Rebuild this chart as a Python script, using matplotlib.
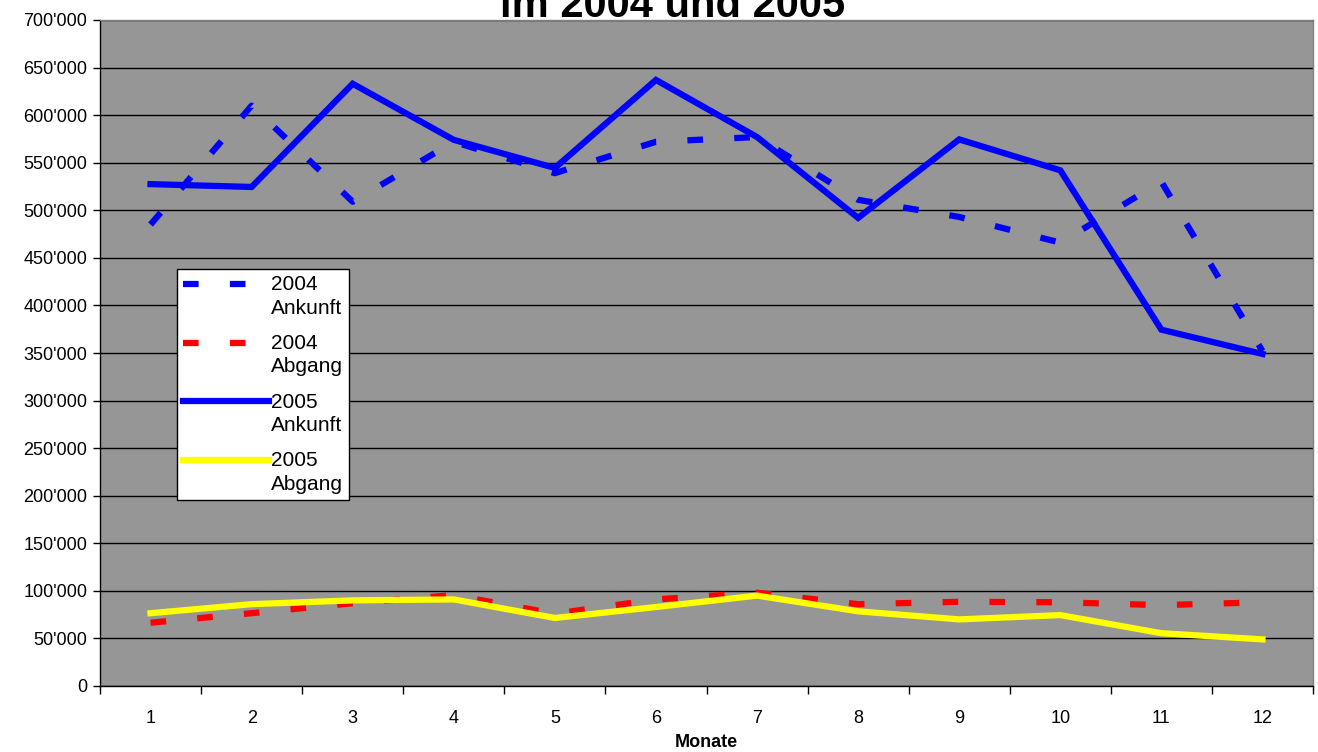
import numpy as np
import matplotlib
matplotlib.use('Agg')
import matplotlib.pyplot as plt
from matplotlib.ticker import FuncFormatter, FixedLocator
from matplotlib.legend_handler import HandlerLine2D

plt.rcParams['font.family'] = ['Liberation Sans', 'DejaVu Sans']

months = np.arange(1, 13)
month_labels = [str(m) for m in months]

# values
ankunft_2004 = [485000, 610000, 509000, 572000, 539000, 572000, 577000, 511000, 493000, 466000, 530000, 352000]
abgang_2004 = [66500, 76500, 87000, 95500, 76000, 91000, 98000, 86000, 88500, 88000, 85000, 88000]
ankunft_2005 = [527500, 524500, 633000, 574000, 544500, 637000, 577000, 492000, 574500, 542000, 374500, 349000]
abgang_2005 = [76500, 86000, 90000, 91000, 71500, 83000, 95000, 78500, 70000, 74500, 55500, 49000]

labels = ['2004\nAnkunft', '2004\nAbgang', '2005\nAnkunft', '2005\nAbgang']


def fmt_thousands(v, pos):
    return '{:,.0f}'.format(v).replace(',', "'")


class TopLineHandler(HandlerLine2D):
    # put the legend line next to the first text line, like Excel does
    def create_artists(self, legend, orig_handle, xdescent, ydescent, width, height, fontsize, trans):
        arts = super().create_artists(legend, orig_handle, xdescent, ydescent, width, height, fontsize, trans)
        for a in arts:
            a.set_ydata(np.asarray(a.get_ydata()) + 0.62 * fontsize)
        return arts


fig = plt.figure(figsize=(13.18, 7.52), dpi=100)
ax = fig.add_axes([100 / 1318, 1 - 686 / 752, 1213 / 1318, 666 / 752])
ax.set_facecolor('#969696')

lw = 4.5
dash = (0, (2.5, 5.0))
ax.plot(months, ankunft_2004, color='#0000ff', lw=lw, linestyle=dash, label=labels[0])
ax.plot(months, abgang_2004, color='#ff0000', lw=lw, linestyle=dash, label=labels[1])
ax.plot(months, ankunft_2005, color='#0000ff', lw=lw, solid_joinstyle='miter', label=labels[2])
ax.plot(months, abgang_2005, color='#ffff00', lw=lw, solid_joinstyle='miter', label=labels[3])

ax.set_xlim(0.5, 12.5)
ax.set_ylim(0, 700000)
ax.yaxis.set_major_locator(FixedLocator(np.arange(0, 700001, 50000)))
ax.yaxis.set_major_formatter(FuncFormatter(fmt_thousands))
ax.set_xticks(months)
ax.set_xticklabels(month_labels)
ax.set_xticks(np.arange(0.5, 13, 1), minor=True)
ax.tick_params(axis='x', which='major', length=0, pad=17, labelsize=13)
ax.tick_params(axis='x', which='minor', length=6, width=1, direction='out', color='black')
ax.tick_params(axis='y', length=5, width=1, direction='out', labelsize=13, pad=4)
ax.grid(axis='y', color='black', lw=1)
ax.set_axisbelow(True)

for s in ['left', 'bottom']:
    ax.spines[s].set_color('black')
    ax.spines[s].set_linewidth(1)
for s in ['top', 'right']:
    ax.spines[s].set_color('#808080')
    ax.spines[s].set_linewidth(1)

ax.set_xlabel('Monate', fontsize=13, fontweight='bold', labelpad=5)

# the chart's title runs off the top edge in the original as well
fig.text(673 / 1318, 1 - 17 / 752, 'im 2004 und 2005', ha='center', va='baseline',
         fontsize=30, fontweight='bold')

leg = ax.legend(loc='upper left', bbox_to_anchor=(77 / 1213, (686 - 269) / 666),
                borderaxespad=0, fancybox=False, framealpha=1, edgecolor='black',
                fontsize=15, handlelength=4.1, handletextpad=0.1, borderpad=0.3,
                labelspacing=0.78, handler_map={plt.Line2D: TopLineHandler()})
leg.get_frame().set_linewidth(1)
for t in leg.get_texts():
    t.set_linespacing(1.3)

fig.savefig('out.png', dpi=100)
